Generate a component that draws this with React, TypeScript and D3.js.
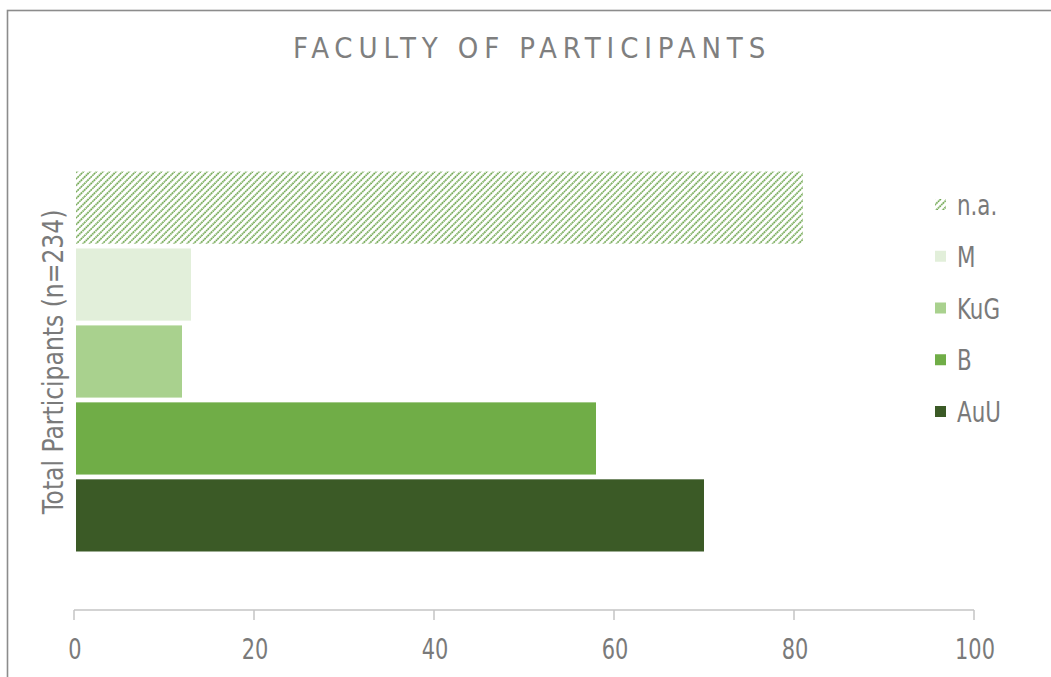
import React from "react";
import * as d3 from "d3";

const categories = ["n.a.", "M", "KuG", "B", "AuU"];
const values = [81, 13, 12, 58, 70];
const colors = ["url(#hatch)", "#E2EFDA", "#A9D18E", "#70AD47", "#3B5A26"];
const xTicks = [0, 20, 40, 60, 80, 100];
const title = "FACULTY OF PARTICIPANTS";
const yLabel = "Total Participants (n=234)";

const W = 1051;
const H = 677;
const FONT = "'Liberation Sans Narrow', 'DejaVu Sans Condensed', 'Liberation Sans', sans-serif";
const NARROW = 0.8;

export default function App() {
  const x = d3.scaleLinear().domain([0, 100]).range([74, 974]);
  const y = d3.scaleBand<string>().domain(categories).range([171.5, 551.5]).paddingInner(0.062);
  const legendY = d3.scalePoint<string>().domain(categories).range([205, 412]);
  const axisY = 610;

  return (
    <svg width={W} height={H} style={{ position: "absolute", left: 0, top: 0, background: "#fff" }}>
      <defs>
        <pattern id="hatch" width="4.6" height="4.6" patternUnits="userSpaceOnUse" patternTransform="rotate(45)">
          <rect width="4.6" height="4.6" fill="#ffffff" />
          <line x1="1" y1="0" x2="1" y2="4.6" stroke="#5e9c3a" strokeWidth="1.6" strokeDasharray="1.7 0.6" />
        </pattern>
      </defs>
      <rect x={7.5} y={10.5} width={W + 20} height={H + 20} fill="#fff" stroke="#8c8c8c" strokeWidth={1.6} />
      <text x={532} y={58} textAnchor="middle" fontFamily={FONT} fontSize={29} fill="#7f7f7f" letterSpacing={5.9}>
        {title}
      </text>
      {categories.map((c, i) => (
        <rect key={c} x={x(0) + 2} y={y(c)} width={x(values[i]) - x(0) - 2} height={y.bandwidth()} fill={colors[i]} />
      ))}
      <line x1={x(0)} x2={x(100)} y1={axisY} y2={axisY} stroke="#c4c4c4" strokeWidth={1.5} />
      {xTicks.map((t) => (
        <g key={t}>
          <line x1={x(t)} x2={x(t)} y1={axisY} y2={axisY + 10} stroke="#c4c4c4" strokeWidth={1.5} />
          <g transform={`translate(${x(t) + 1},659) scale(${NARROW},1)`}>
            <text x={0} y={0} textAnchor="middle" fontFamily={FONT} fontSize={29} fill="#7a7a7a">
              {t}
            </text>
          </g>
        </g>
      ))}
      <g transform="translate(63,362) rotate(-90) scale(0.9,1)">
        <text x={0} y={0} textAnchor="middle" fontFamily={FONT} fontSize={29} fill="#7a7a7a">
          {yLabel}
        </text>
      </g>
      {categories.map((c, i) => (
        <g key={"lg" + c}>
          <rect x={935} y={(legendY(c) as number) - 6} width={11} height={11} fill={colors[i]} />
          <g transform={`translate(957,${(legendY(c) as number) + 10}) scale(0.85,1)`}>
            <text x={0} y={0} fontFamily={FONT} fontSize={28} fill="#7a7a7a">
              {c}
            </text>
          </g>
        </g>
      ))}
    </svg>
  );
}
